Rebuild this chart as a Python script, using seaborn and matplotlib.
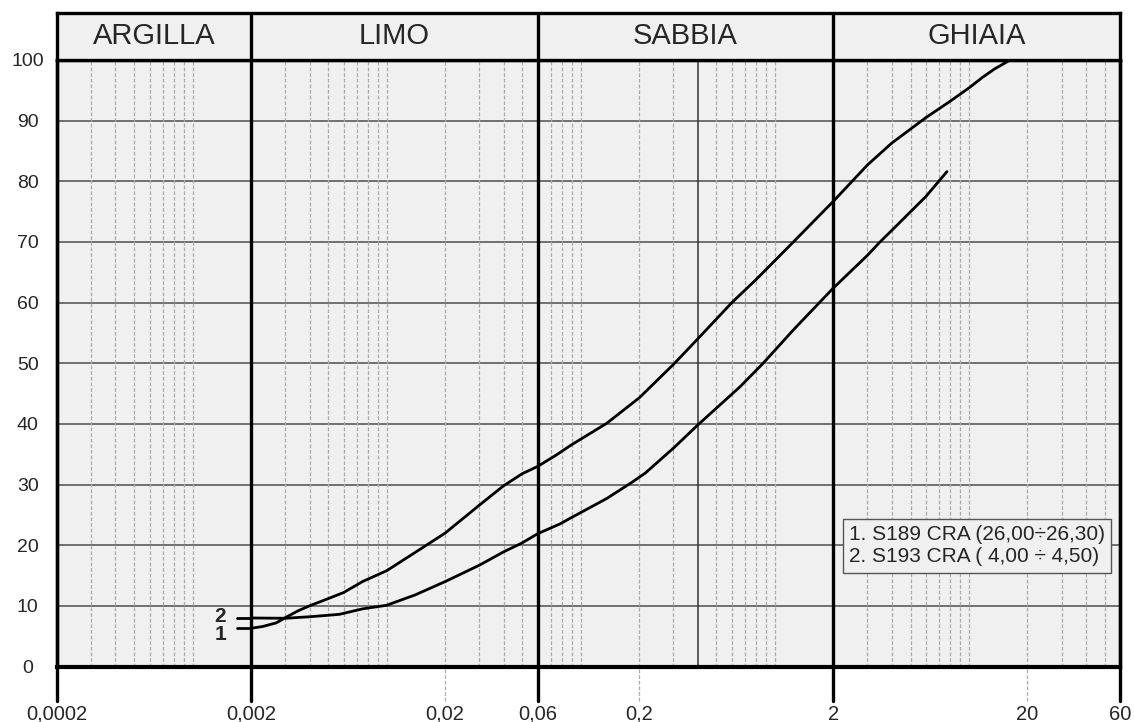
import numpy as np
import pandas as pd
import matplotlib
matplotlib.use("Agg")
import matplotlib.pyplot as plt
import seaborn as sns

# ---------------- data ----------------
diam_s189 = [0.002, 0.0023, 0.0027, 0.003, 0.0035, 0.004, 0.005, 0.006, 0.0075, 0.01,
             0.014, 0.02, 0.03, 0.04, 0.05, 0.06, 0.075, 0.089, 0.136, 0.2, 0.3, 0.4,
             0.6, 0.8, 1.245, 2.0, 3.0, 4.0, 6.0, 8.0, 10.0, 11.7, 13.5, 16.3]
pass_s189 = [6.3, 6.6, 7.2, 8.05, 9.2, 10.0, 11.2, 12.2, 14.0, 15.8,
             18.8, 22.0, 26.6, 29.8, 31.8, 33.0, 34.9, 36.5, 40.1, 44.3, 49.8, 54.0,
             60.0, 63.8, 70.0, 76.7, 82.7, 86.3, 90.5, 93.2, 95.4, 97.1, 98.5, 100.0]

diam_s193 = [0.002, 0.003, 0.004, 0.0057, 0.0075, 0.01, 0.014, 0.02, 0.03, 0.04, 0.05,
             0.06, 0.078, 0.09, 0.136, 0.184, 0.215, 0.3, 0.4, 0.66, 0.87, 1.245,
             2.0, 3.0, 3.48, 4.0, 6.0, 7.7]
pass_s193 = [8.0, 7.95, 8.2, 8.6, 9.5, 10.1, 11.8, 14.0, 16.7, 18.9, 20.4,
             21.9, 23.5, 24.6, 27.7, 30.4, 31.9, 36.0, 39.8, 46.1, 50.0, 55.5,
             62.4, 67.8, 70.0, 71.9, 77.5, 81.6]

series_ids = ["1", "2"]
legend_lines = ["1. S189 CRA (26,00÷26,30)", "2. S193 CRA ( 4,00 ÷ 4,50)"]

class_names = ["ARGILLA", "LIMO", "SABBIA", "GHIAIA"]
class_bounds = [0.0002, 0.002, 0.06, 2, 60]

xtick_vals = [0.0002, 0.002, 0.02, 0.06, 0.2, 2, 20, 60]
xtick_labels = ["0,0002", "0,002", "0,02", "0,06", "0,2", "2", "20", "60"]
ytick_vals = list(range(0, 101, 10))
ytick_labels = [str(v) for v in ytick_vals]

# ---------------- style ----------------
sns.set_style("white")
plt.rcParams["font.family"] = ["Liberation Sans", "DejaVu Sans"]

W, H = 1134, 722
fig = plt.figure(figsize=(W / 100, H / 100), dpi=100)
fig.patch.set_facecolor("white")

px_l, px_r = 57, 1120
px_bot, px_top, px_head = 666.5, 60, 13
ax = fig.add_axes([px_l / W, 1 - px_bot / H, (px_r - px_l) / W, (px_bot - px_top) / H])
hx = fig.add_axes([px_l / W, 1 - px_top / H, (px_r - px_l) / W, (px_top - px_head) / H])

bg = "#f0f0f0"
for a in (ax, hx):
    a.set_facecolor(bg)
    a.set_xscale("log")
    a.set_xlim(class_bounds[0], class_bounds[-1])
    a.xaxis.set_minor_locator(matplotlib.ticker.NullLocator())
    for s in a.spines.values():
        s.set_linewidth(2.4)
        s.set_color("black")
ax.set_ylim(0, 100)
ax.spines["bottom"].set_linewidth(3)

# ---------------- grid ----------------
for v in ytick_vals[1:-1]:
    ax.axhline(v, color="#5a5a5a", lw=1.2, zorder=1)

special = class_bounds + [0.02, 0.2, 20, 0.4]
minor = [k * 10.0 ** n for n in range(-4, 2) for k in range(1, 10)]
minor = [m for m in minor if class_bounds[0] < m < class_bounds[-1]
         and not any(np.isclose(m, s) for s in special)]
dash = (0, (3, 1.5))
ax.vlines(minor, 0, 100, colors="#ababab", linestyles=dash, lw=0.9, zorder=1)

ext = -34 / (px_bot - px_top)
for xv in [0.02, 0.2, 20]:
    ax.axvline(xv, ymin=ext, ymax=1, color="#ababab", ls=dash, lw=0.9, clip_on=False, zorder=1)
ax.axvline(0.4, color="#333333", lw=1.1, zorder=1)

for i, b in enumerate(class_bounds):
    lw = 2.4
    ax.axvline(b, ymin=ext, ymax=1, color="black", lw=lw, clip_on=False, zorder=3)
    if 0 < i < len(class_bounds) - 1:
        hx.axvline(b, color="black", lw=lw)

# ---------------- curves ----------------
df = pd.concat([
    pd.DataFrame({"d": diam_s189, "p": pass_s189, "s": series_ids[0]}),
    pd.DataFrame({"d": diam_s193, "p": pass_s193, "s": series_ids[1]}),
])
sns.lineplot(data=df, x="d", y="p", units="s", estimator=None, sort=False,
             color="black", lw=2.0, ax=ax, legend=False, zorder=4)

# leader lines + numbers
for sid, dd, pp, dy in [(series_ids[0], diam_s189, pass_s189, -1.1),
                        (series_ids[1], diam_s193, pass_s193, 0.2)]:
    ax.plot([0.0017, dd[0]], [pp[0], pp[0]], color="black", lw=2.0, zorder=4)
    ax.text(0.00149, pp[0] + dy, sid, ha="right", va="center",
            fontsize=15, fontweight="bold", zorder=5)

# legend box
ax.text((849 - px_l) / (px_r - px_l), (px_bot - 546) / (px_bot - px_top),
        "\n".join(legend_lines), transform=ax.transAxes, ha="left", va="center",
        fontsize=15, linespacing=1.2, zorder=6,
        bbox=dict(boxstyle="square,pad=0.3", facecolor=bg, edgecolor="#555555", lw=1.0))

# ---------------- ticks ----------------
ax.set_xticks(xtick_vals)
ax.set_xticklabels(xtick_labels)
ax.set_yticks(ytick_vals)
ax.set_yticklabels(ytick_labels)
ax.tick_params(axis="x", length=0, pad=27.5, labelsize=14.5)
ax.tick_params(axis="y", length=0, pad=21, labelsize=14)
for lbl in ax.get_yticklabels():
    lbl.set_horizontalalignment("center")
ax.set_xlabel("")
ax.set_ylabel("")

# ---------------- header ----------------
hx.set_ylim(0, 1)
hx.set_xticks([])
hx.set_yticks([])
for name, lo, hi in zip(class_names, class_bounds[:-1], class_bounds[1:]):
    hx.text(np.sqrt(lo * hi), 0.5, name, ha="center", va="center", fontsize=21)

fig.savefig("out.png", dpi=100)
